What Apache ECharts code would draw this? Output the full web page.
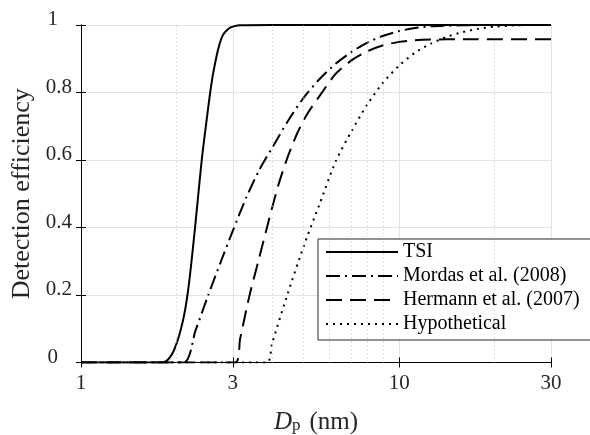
<!DOCTYPE html>
<html><head><meta charset="utf-8">
<script src="https://cdn.jsdelivr.net/npm/echarts@6/dist/echarts.min.js"></script>
<style>html,body{margin:0;padding:0;background:#fff}#c{width:590px;height:435px}</style>
</head><body><div id="c"></div>
<script>
// ---- data ----
const xTicks = [1, 3, 10, 30];
const xTickLabels = ['1', '3', '10', '30'];
const xMinorGrid = [2, 4, 5, 6, 7, 8, 9, 20];
const yTickLabels = ['0', '0.2', '0.4', '0.6', '0.8', '1'];
const seriesNames = ['TSI', 'Mordas et al. (2008)', 'Hermann et al. (2007)', 'Hypothetical'];

const tsiD   = [1, 1.807, 1.862, 1.905, 1.950, 1.995, 2.042, 2.089, 2.128, 2.168, 2.213, 2.280, 2.355, 2.399, 2.438, 2.495, 2.547, 2.600, 2.673, 2.723, 2.767, 2.818, 2.884, 2.944, 3.020, 3.162, 4, 30];
const tsiEff = [0, 0, 0.006, 0.016, 0.032, 0.055, 0.085, 0.122, 0.16, 0.21, 0.28, 0.395, 0.53, 0.605, 0.66, 0.735, 0.8, 0.855, 0.912, 0.942, 0.962, 0.976, 0.986, 0.992, 0.996, 0.999, 1, 1];

const morD   = [1, 2.099, 2.291, 2.512, 2.754, 2.999, 3.311, 3.631, 3.981, 4.467, 5.012, 5.623, 6.310, 7.079, 7.943, 8.913, 10, 11.22, 12.59, 15.85, 19.95, 30];
const morEff = [0, 0, 0.095, 0.2, 0.3, 0.39, 0.49, 0.57, 0.635, 0.715, 0.785, 0.84, 0.885, 0.92, 0.948, 0.968, 0.982, 0.991, 0.996, 0.999, 1, 1];

const herD   = [1, 3.048, 3.162, 3.388, 3.631, 3.890, 4.169, 4.467, 4.786, 5.129, 5.623, 6.310, 7.079, 7.943, 8.913, 10, 11.22, 12.59, 15.85, 30];
const herEff = [0, 0, 0.07, 0.2, 0.31, 0.42, 0.525, 0.61, 0.68, 0.735, 0.79, 0.855, 0.895, 0.922, 0.94, 0.95, 0.955, 0.957, 0.958, 0.958];

const hypD   = [1, 3.837, 3.981, 4.467, 5.012, 5.623, 6.310, 7.079, 7.943, 8.913, 10, 11.22, 12.59, 14.13, 15.85, 17.78, 19.95, 22.39, 25.12, 30];
const hypEff = [0, 0, 0.055, 0.205, 0.345, 0.47, 0.595, 0.685, 0.765, 0.83, 0.88, 0.918, 0.945, 0.965, 0.979, 0.989, 0.995, 0.998, 1, 1];

// ---- chart ----
const FONT = "'Liberation Serif', 'DejaVu Serif', serif";
const lg = Math.log10;
const pairs = (d, e) => d.map((v, i) => [lg(v), e[i]]);
const xFmt = v => { const i = xTicks.findIndex(t => Math.abs(lg(t) - v) < 1e-6); return i >= 0 ? xTickLabels[i] : ''; };
const yFmt = v => {
  const s = yTickLabels[Math.round(v * 5)] || '';
  return s.indexOf('.') < 0 && s ? '{e|' + s + '}' : s;
};

const chart = echarts.init(document.getElementById('c'), null, {renderer: 'canvas'});
const xCommon = {
  type: 'value', min: 0, max: lg(30),
  axisLine: {show: true, lineStyle: {color: '#000', width: 1}},
  axisTick: {show: true, inside: true, length: 5, customValues: xTicks.map(lg), lineStyle: {color: '#000'}},
};
const yCommon = {
  type: 'value', min: 0, max: 1, interval: 0.2,
  axisLine: {show: true, lineStyle: {color: '#000', width: 1}},
  axisTick: {show: true, inside: true, length: 5, lineStyle: {color: '#000'}},
};
const lineSeries = (name, data, type) => ({
  name, type: 'line', data, symbol: 'none', showSymbol: false, z: 3,
  smooth: 0.25,
  lineStyle: {color: '#000', width: 2, type},
  itemStyle: {color: '#000'}
});

chart.setOption({
  animation: false,
  backgroundColor: '#fff',
  grid: {left: 81, right: 39, top: 25, bottom: 72.5, containLabel: false, outerBoundsMode: 'none'},
  xAxis: [
    Object.assign({}, xCommon, {
      position: 'bottom',
      axisLabel: {show: true, customValues: xTicks.map(lg), formatter: xFmt, margin: 10,
        fontFamily: FONT, fontSize: 21, color: '#262626'},
      splitLine: {show: true, lineStyle: {color: '#e3e3e3', width: 1}},
      name: '{d|D}{p|p}{n|(nm)}', nameLocation: 'middle', nameGap: 47,
      nameTextStyle: {rich: {
        d: {fontFamily: FONT, fontStyle: 'italic', fontSize: 25, color: '#262626'},
        p: {fontFamily: FONT, fontSize: 17, color: '#262626', padding: [8, 0, 0, 0]},
        n: {fontFamily: FONT, fontSize: 25, color: '#262626', padding: [0, 0, 0, 9]}
      }}
    }),
    Object.assign({}, xCommon, {position: 'top', axisLabel: {show: false}, splitLine: {show: false}})
  ],
  yAxis: [
    Object.assign({}, yCommon, {
      position: 'left',
      axisLabel: {show: true, formatter: yFmt, margin: 9, fontFamily: FONT, fontSize: 21, color: '#262626',
        verticalAlign: 'bottom', lineHeight: 11,
        rich: {e: {fontFamily: FONT, fontSize: 21, color: '#262626', lineHeight: 11, padding: [0, 14, 0, 0]}}},
      splitLine: {show: true, lineStyle: {color: '#e3e3e3', width: 1}},
      name: 'Detection efficiency', nameLocation: 'middle', nameGap: 46, nameRotate: 90,
      nameTextStyle: {fontFamily: FONT, fontSize: 26, color: '#262626'}
    }),
    Object.assign({}, yCommon, {position: 'right', axisLabel: {show: false}, splitLine: {show: false}})
  ],
  legend: {
    orient: 'vertical', left: 318, top: 239,
    data: seriesNames, selectedMode: false,
    itemWidth: 72, itemHeight: 14, itemGap: 4,
    padding: [3, 11, 6, 7],
    itemStyle: {opacity: 0, borderWidth: 0},
    backgroundColor: '#fff', borderColor: '#262626', borderWidth: 1, borderRadius: 0,
    textStyle: {fontFamily: FONT, fontSize: 20, color: '#000', lineHeight: 20}
  },
  series: [
    {
      type: 'line', data: [], z: 1, silent: true,
      markLine: {
        silent: true, symbol: ['none', 'none'], animation: false,
        label: {show: false},
        lineStyle: {color: '#c4c4c4', type: [1, 3], width: 1},
        emphasis: {disabled: true},
        data: xMinorGrid.map(v => ({xAxis: lg(v)}))
      }
    },
    lineSeries(seriesNames[0], pairs(tsiD, tsiEff), 'solid'),
    lineSeries(seriesNames[1], pairs(morD, morEff), [14, 5, 2, 5]),
    lineSeries(seriesNames[2], pairs(herD, herEff), [16, 8]),
    lineSeries(seriesNames[3], pairs(hypD, hypEff), [2, 5])
  ]
});
</script></body></html>
